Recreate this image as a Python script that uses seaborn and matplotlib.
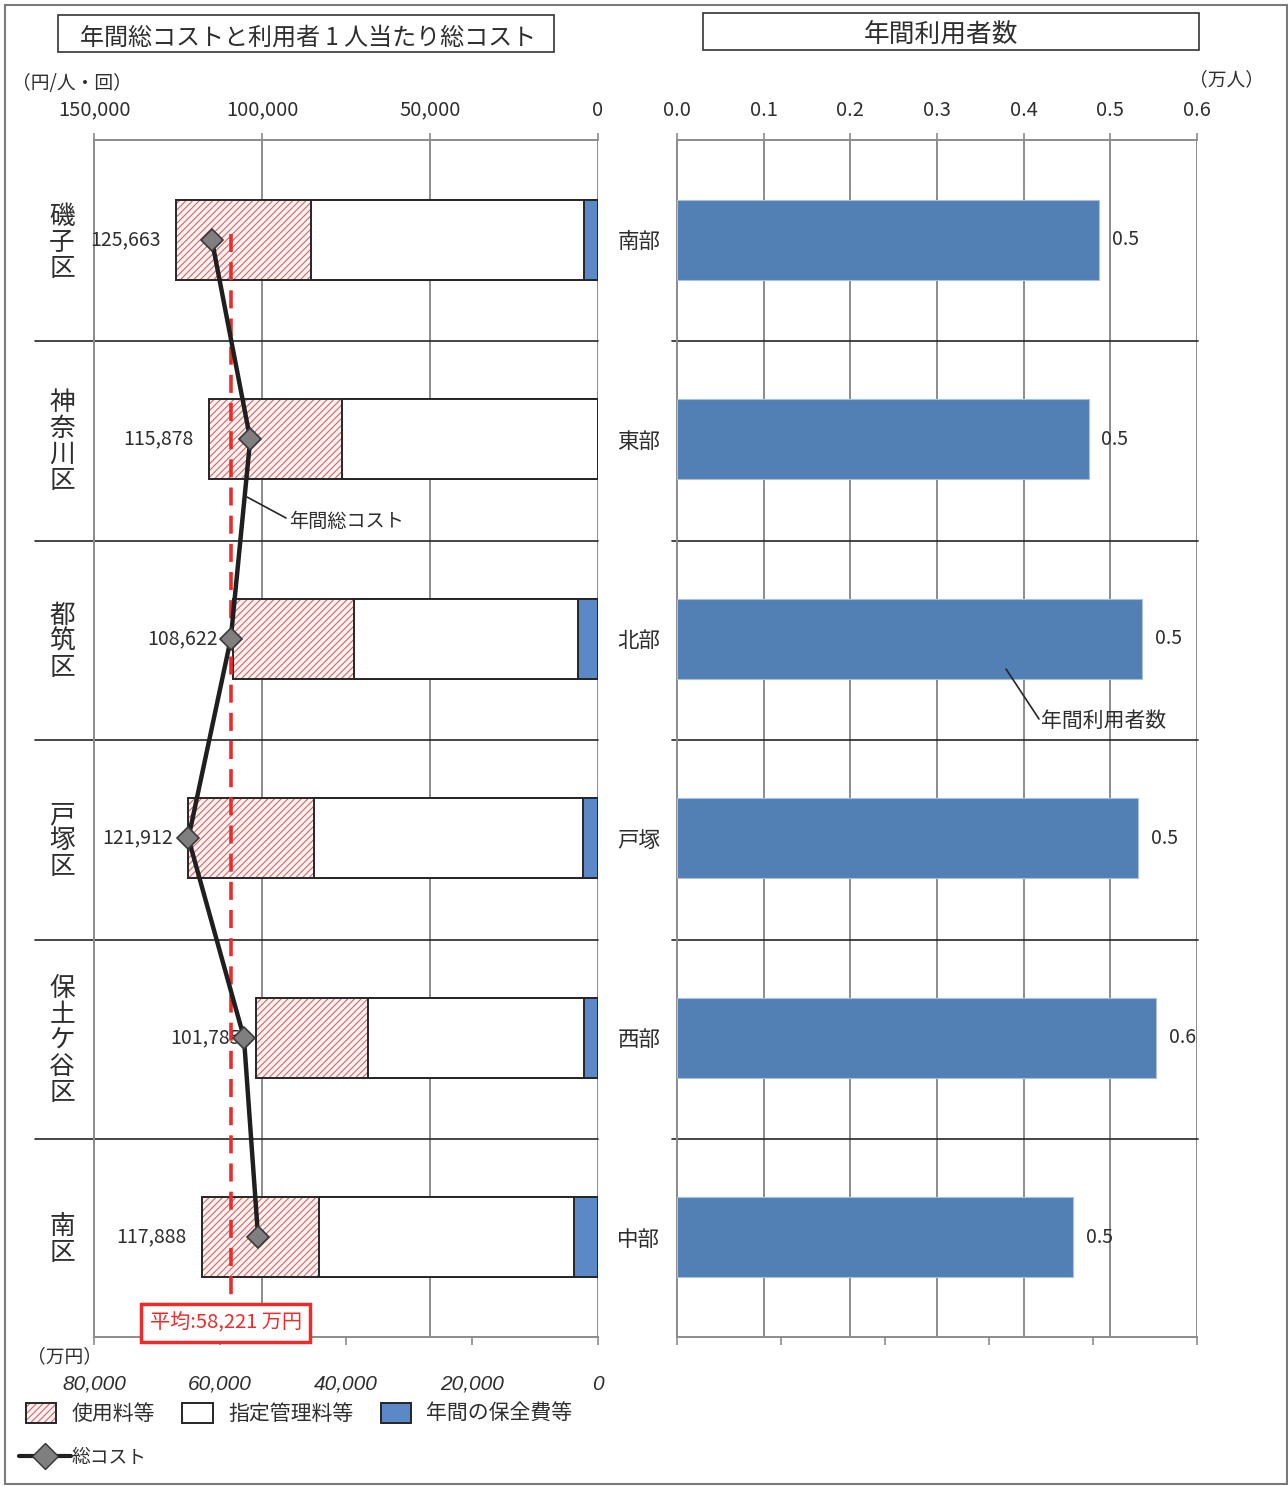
import numpy as np
import pandas as pd
import matplotlib
matplotlib.use("Agg")
import matplotlib.pyplot as plt
import seaborn as sns
from matplotlib.patches import Rectangle, Patch
from matplotlib.lines import Line2D
from matplotlib.ticker import FuncFormatter
import matplotlib.transforms as mtransforms

# ---------------- data ----------------
districts = ["磯子区", "神奈川区", "都筑区", "戸塚区", "保土ケ谷区", "南区"]
centers = ["南部", "東部", "北部", "戸塚", "西部", "中部"]
usage_fee = [40143, 39640, 35967, 37381, 33221, 34967]      # 使用料等 (円/人・回)
mgmt_fee = [81312, 76238, 66667, 80040, 64356, 75743]       # 指定管理料等 (円/人・回)
maint_fee = [4208, 0, 5988, 4491, 4208, 7178]               # 年間の保全費等 (円/人・回)
per_person = [125663, 115878, 108622, 121912, 101785, 117888]
annual_cost = [61300, 55200, 58290, 65020, 56200, 53950]    # 総コスト (万円)
average_cost = 58221                                        # 平均 (万円)
annual_users = [0.487, 0.475, 0.537, 0.532, 0.553, 0.457]   # 年間利用者数 (万人)
top_ticks = [150000, 100000, 50000, 0]
bottom_ticks = [80000, 60000, 40000, 20000, 0]
user_ticks = [0.0, 0.1, 0.2, 0.3, 0.4, 0.5, 0.6]

sns.set_style("white")
plt.rcParams["font.family"] = ["Noto Sans CJK JP", "DejaVu Sans"]
plt.rcParams["hatch.linewidth"] = 0.8

TXT = "#2e2e2e"
GRID = "#8c8c8c"
EDGE = "#262626"
HATCH = "#d86464"
BLUE_L = "#5b88c6"
BLUE_R = "#5280b4"
RED = "#ee2b2b"
HATCH_PAT = "/////"

W, H = 1288, 1486
fig = plt.figure(figsize=(W / 100, H / 100), dpi=100)


def fx(px):
    return px / W


def fy(py):
    return 1 - py / H


TOP, BOT = 140, 1337
ax1 = fig.add_axes([fx(94), fy(BOT), (598 - 94) / W, (BOT - TOP) / H])
rax = fig.add_axes([fx(677), fy(BOT), (1197 - 677) / W, (BOT - TOP) / H])

df = pd.DataFrame({
    "district": districts, "center": centers,
    "usage": usage_fee, "mgmt": mgmt_fee, "maint": maint_fee,
    "total": per_person, "cost": annual_cost, "users": annual_users,
})
df["maint_cum"] = df["maint"]
df["mgmt_cum"] = df["maint"] + df["mgmt"]
df["usage_cum"] = df["mgmt_cum"] + df["usage"]


def bars(ax, col, **style):
    n0 = len(ax.patches)
    sns.barplot(data=df, y="district", x=col, ax=ax, orient="h", width=0.4,
                color="white", saturation=1, errorbar=None)
    for p in ax.patches[n0:]:
        p.set(**style)


bars(ax1, "usage_cum", facecolor="#fdf3f3", edgecolor=HATCH, linewidth=0, hatch=HATCH_PAT, zorder=2)
bars(ax1, "usage_cum", facecolor="none", edgecolor=EDGE, linewidth=1.4, zorder=3)
bars(ax1, "mgmt_cum", facecolor="white", edgecolor=EDGE, linewidth=1.4, zorder=4)
bars(ax1, "maint_cum", facecolor=BLUE_L, edgecolor=EDGE, linewidth=1.4, zorder=5)

# per-person totals
for i, v in enumerate(per_person):
    ax1.annotate(f"{v:,}", (v, i), xytext=(-11, 0), textcoords="offset points",
                 ha="right", va="center", fontsize=14, color=TXT, zorder=8)

# secondary (bottom) axis: annual total cost
ax2 = ax1.twiny()
sns.lineplot(x=annual_cost, y=list(range(len(annual_cost))), orient="y", ax=ax2,
             color="#1f1f1f", linewidth=3.2, marker="D", markersize=11,
             markerfacecolor="#7f7f7f", markeredgecolor="#3a3a3a",
             markeredgewidth=1.2, zorder=6)
ax2.plot([average_cost, average_cost], [-0.03, 5.35], color=RED, lw=2.6,
         dashes=(5, 2.8), zorder=5)
ax2.annotate(f"平均:{average_cost:,} 万円", (average_cost, 5.43), xytext=(-4, 0),
             textcoords="offset points", ha="center", va="center",
             color=RED, fontsize=14.5, zorder=9, annotation_clip=False,
             bbox=dict(boxstyle="square,pad=0.42", fc="white", ec=RED, lw=2.5))

# left axis formatting
ax1.set_xlim(150000, 0)
ax1.set_ylim(5.5, -0.5)
ax1.set_xticks(top_ticks)
ax1.xaxis.set_major_formatter(FuncFormatter(lambda v, p: f"{int(v):,}"))
ax1.xaxis.set_ticks_position("top")
ax1.tick_params(axis="x", top=True, bottom=False, labeltop=True, labelbottom=False,
                direction="out", length=5, width=1.2, color=GRID, pad=9,
                labelsize=14.5, labelcolor=TXT)
ax1.grid(axis="x", color=GRID, lw=1.4)
ax1.grid(axis="y", visible=False)
ax1.set_axisbelow(True)
ax1.set_xlabel("")
ax1.set_ylabel("")
ax1.set_yticks(range(len(districts)))
ax1.set_yticklabels(["\n".join(d) for d in districts])
for t in ax1.get_yticklabels():
    t.set_horizontalalignment("center")
    t.set_fontsize(18.5)
    t.set_linespacing(1.0)
    t.set_color(TXT)
ax1.tick_params(axis="y", length=0, pad=23)
for s in ["right", "bottom"]:
    ax1.spines[s].set_visible(False)
for s in ["top", "left"]:
    ax1.spines[s].set_color(GRID)
    ax1.spines[s].set_linewidth(1.4)

ax2.set_xlim(80000, 0)
ax2.set_ylim(5.5, -0.5)
ax2.set_xticks(bottom_ticks)
ax2.xaxis.set_major_formatter(FuncFormatter(lambda v, p: f"{int(v):,}"))
ax2.xaxis.set_ticks_position("bottom")
ax2.xaxis.set_label_position("bottom")
ax2.tick_params(axis="x", top=False, bottom=True, labeltop=False, labelbottom=True,
                direction="out", length=6, width=1.2, color=GRID, pad=21,
                labelsize=15, labelcolor=TXT)
for t in ax2.get_xticklabels():
    t.set_fontstyle("italic")
    t.set_fontfamily(["Liberation Sans", "DejaVu Sans"])
ax2.set_xlabel("")
ax2.set_ylabel("")
for s in ["top", "left", "right"]:
    ax2.spines[s].set_visible(False)
ax2.spines["bottom"].set_color(GRID)
ax2.spines["bottom"].set_linewidth(1.4)

# separators
tr1 = mtransforms.blended_transform_factory(ax1.transAxes, ax1.transData)
for k in range(len(districts) - 1):
    ax1.plot([-0.117, 1.0], [k + 0.51, k + 0.51], transform=tr1, color=EDGE, lw=1.2,
             clip_on=False, zorder=2.5)

# ---------------- right panel ----------------
sns.barplot(data=df, y="center", x="users", ax=rax, orient="h", width=0.4,
            color=BLUE_R, saturation=1, errorbar=None, edgecolor="#a9bfdc",
            linewidth=0.8, zorder=3)
for i, v in enumerate(annual_users):
    rax.annotate(f"{v:.1f}", (v, i), xytext=(9, 0), textcoords="offset points",
                 ha="left", va="center", fontsize=14, color=TXT, zorder=8)

rb = rax.twiny()
rb.set_xlim(0, 5)
rb.set_xticks(range(6))
rb.xaxis.set_ticks_position("bottom")
rb.tick_params(axis="x", labelbottom=False, labeltop=False, top=False, bottom=True,
               direction="out", length=6, width=1.2, color=GRID)
for s in ["top", "left", "right"]:
    rb.spines[s].set_visible(False)
rb.spines["bottom"].set_color(GRID)
rb.spines["bottom"].set_linewidth(1.4)

rax.set_xlim(0, 0.6)
rax.set_ylim(5.5, -0.5)
rax.set_xticks(user_ticks)
rax.xaxis.set_major_formatter(FuncFormatter(lambda v, p: f"{v:.1f}"))
rax.xaxis.set_ticks_position("top")
rax.tick_params(axis="x", top=True, bottom=False, labeltop=True, labelbottom=False,
                direction="out", length=5, width=1.2, color=GRID, pad=9,
                labelsize=14.5, labelcolor=TXT)
rax.tick_params(axis="y", length=0, pad=12, labelsize=15.5, labelcolor=TXT)
rax.grid(axis="x", color=GRID, lw=1.4)
rax.grid(axis="y", visible=False)
rax.set_axisbelow(True)
rax.set_xlabel("")
rax.set_ylabel("")
for s in ["right", "bottom"]:
    rax.spines[s].set_visible(False)
for s in ["top", "left"]:
    rax.spines[s].set_color(GRID)
    rax.spines[s].set_linewidth(1.4)

trr = mtransforms.blended_transform_factory(rax.transAxes, rax.transData)
for k in range(len(centers) - 1):
    rax.plot([-0.0096, 1.002], [k + 0.51, k + 0.51], transform=trr, color=EDGE, lw=1.2,
             clip_on=False, zorder=2.5)

# ---------------- titles / units / annotations ----------------
fig.add_artist(Rectangle((fx(58), fy(52)), (554 - 58) / W, (52 - 15) / H,
                         transform=fig.transFigure, fill=False, ec="#333333", lw=1.2))
fig.text(fx(308), fy(38), "年間総コストと利用者 1 人当たり総コスト", ha="center",
         va="center", fontsize=17.3, color=TXT)
fig.add_artist(Rectangle((fx(703), fy(50)), (1199 - 703) / W, (50 - 13) / H,
                         transform=fig.transFigure, fill=False, ec="#333333", lw=1.2))
fig.text(fx(941), fy(35), "年間利用者数", ha="center", va="center", fontsize=18.5,
         color=TXT)

fig.text(fx(72), fy(83), "（円/人・回）", ha="center", va="center", fontsize=13.5, color=TXT)
fig.text(fx(1227), fy(80), "（万人）", ha="center", va="center", fontsize=13.5, color=TXT)
fig.text(fx(65), fy(1357), "（万円）", ha="center", va="center", fontsize=13.5, color=TXT)

fig.add_artist(Line2D([fx(247), fx(286)], [fy(497), fy(518)], color=EDGE, lw=1.2))
fig.text(fx(289), fy(521), "年間総コスト", ha="left", va="center", fontsize=13.8, color=TXT)
fig.add_artist(Line2D([fx(1006), fx(1039)], [fy(669), fy(719)], color=EDGE, lw=1.2))
fig.text(fx(1041), fy(721), "年間利用者数", ha="left", va="center", fontsize=15, color=TXT)

# ---------------- legends ----------------
h_usage = (Patch(facecolor="#fdf3f3", edgecolor=HATCH, hatch=HATCH_PAT, linewidth=0),
           Patch(facecolor="none", edgecolor=EDGE, linewidth=1.4))
h_mgmt = Patch(facecolor="white", edgecolor=EDGE, linewidth=1.4)
h_maint = Patch(facecolor=BLUE_L, edgecolor=EDGE, linewidth=1.4)
fig.legend([h_usage, h_mgmt, h_maint], ["使用料等", "指定管理料等", "年間の保全費等"],
           loc="upper left", bbox_to_anchor=(fx(26), fy(1403)), ncol=3, frameon=False,
           fontsize=15, handlelength=1.45, handleheight=1.05, handletextpad=0.75,
           columnspacing=1.3, borderpad=0, borderaxespad=0, labelcolor=TXT)
h_line = Line2D([], [], color="#1f1f1f", lw=3, marker="D", markersize=13,
                markerfacecolor="#7f7f7f", markeredgecolor="#333333")
fig.legend([h_line], ["総コスト"], loc="upper left", bbox_to_anchor=(fx(19), fy(1447)),
           frameon=False, fontsize=13.5, handlelength=2.75, handletextpad=0.05,
           borderpad=0, borderaxespad=0, numpoints=1, labelcolor=TXT)

fig.add_artist(Rectangle((fx(5), fy(1484)), (1287 - 5) / W, (1484 - 5) / H,
                         transform=fig.transFigure, fill=False, ec="#7a7a7a", lw=1.5))

fig.savefig("out.png", dpi=100)
